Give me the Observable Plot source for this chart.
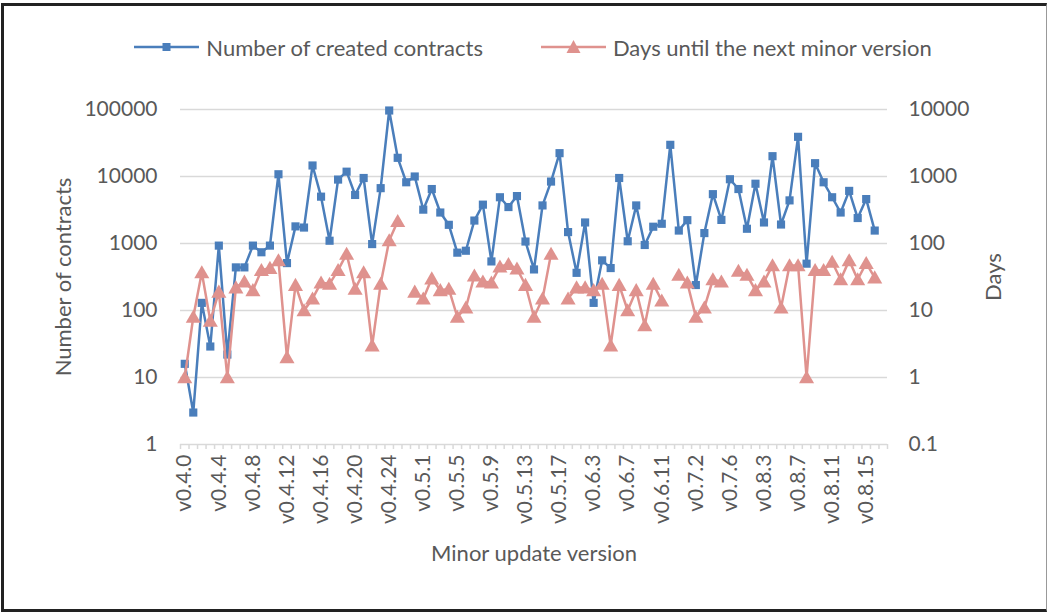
<!DOCTYPE html>
<html>
<head>
<meta charset="utf-8">
<script src="https://cdn.jsdelivr.net/npm/d3@7"></script>
<script src="https://cdn.jsdelivr.net/npm/@observablehq/plot@0.6"></script>
<style>
  html, body { margin: 0; padding: 0; background: #fff; overflow: hidden; }
  body { width: 1048px; height: 612px; position: relative; font-family: Lato, "Open Sans", sans-serif; }
  #frame { position: absolute; left: 1px; top: 3px; width: 1046px; height: 609px; box-sizing: border-box;
           border-left: 3px solid #222; border-top: 3px solid #222; border-bottom: 3px solid #222; border-right: 1px solid #999; pointer-events: none; }
  #legend { position: absolute; top: 30px; left: 0; width: 1066px; height: 34px; display: flex; justify-content: center;
            align-items: center; gap: 58px; font-size: 22px; color: #595959; }
  .item { display: flex; align-items: center; gap: 7px; }
  #plots { position: absolute; left: 0; top: 80px; width: 1048px; height: 532px; }
  #plots svg { position: absolute; left: 0; top: 0; }
</style>
</head>
<body>
<div id="legend">
  <div class="item">
    <svg width="65" height="16"><line x1="0" y1="8" x2="65" y2="8" stroke="#4a7ebb" stroke-width="2.5"/><rect x="28.5" y="4" width="8" height="8" fill="#4a7ebb"/></svg>
    <span>Number of created contracts</span>
  </div>
  <div class="item">
    <svg width="65" height="16"><line x1="0" y1="8" x2="65" y2="8" stroke="#df928e" stroke-width="2.5"/><path d="M32.5,1 L39.5,14 L25.5,14 Z" fill="#df928e"/></svg>
    <span>Days until the next minor version</span>
  </div>
</div>
<div id="plots"></div>
<div id="frame"></div>
<script>
const versions = [
  "v0.4.0","v0.4.1","v0.4.2","v0.4.3","v0.4.4","v0.4.5","v0.4.6","v0.4.7","v0.4.8","v0.4.9",
  "v0.4.10","v0.4.11","v0.4.12","v0.4.13","v0.4.14","v0.4.15","v0.4.16","v0.4.17","v0.4.18","v0.4.19",
  "v0.4.20","v0.4.21","v0.4.22","v0.4.23","v0.4.24","v0.4.25","v0.4.26",
  "v0.5.0","v0.5.1","v0.5.2","v0.5.3","v0.5.4","v0.5.5","v0.5.6","v0.5.7","v0.5.8","v0.5.9",
  "v0.5.10","v0.5.11","v0.5.12","v0.5.13","v0.5.14","v0.5.15","v0.5.16","v0.5.17",
  "v0.6.0","v0.6.1","v0.6.2","v0.6.3","v0.6.4","v0.6.5","v0.6.6","v0.6.7","v0.6.8","v0.6.9",
  "v0.6.10","v0.6.11","v0.6.12",
  "v0.7.0","v0.7.1","v0.7.2","v0.7.3","v0.7.4","v0.7.5","v0.7.6",
  "v0.8.0","v0.8.1","v0.8.2","v0.8.3","v0.8.4","v0.8.5","v0.8.6","v0.8.7","v0.8.8","v0.8.9",
  "v0.8.10","v0.8.11","v0.8.12","v0.8.13","v0.8.14","v0.8.15","v0.8.16","v0.8.17"
];
const labeledVersions = [
  "v0.4.0","v0.4.4","v0.4.8","v0.4.12","v0.4.16","v0.4.20","v0.4.24","v0.5.1","v0.5.5","v0.5.9",
  "v0.5.13","v0.5.17","v0.6.3","v0.6.7","v0.6.11","v0.7.2","v0.7.6","v0.8.3","v0.8.7","v0.8.11","v0.8.15"
];
const contracts = [
  16, 3, 130, 29, 930, 22, 440, 440, 930, 740,
  930, 10800, 510, 1800, 1730, 14600, 5000, 1100, 9000, 11800,
  5300, 9500, 980, 6700, 96600, 19000, 8200,
  10000, 3200, 6500, 2900, 1900, 730, 780, 2200, 3800,
  540, 4900, 3500, 5100, 1070, 410, 3700, 8400, 22300,
  1480, 365, 2060, 130, 560, 430, 9500, 1080, 3700, 950,
  1780, 1970, 29700,
  1560, 2230, 240, 1430, 5450, 2250, 9100,
  6500, 1660, 7800, 2060, 20100, 1920, 4400, 39100, 500, 15800,
  8200, 4900, 2900, 6100, 2400, 4600, 1560, null
];
const days = [
  1, 8, 37, 7, 19, 1, 22, 27, 20, 40,
  43, 56, 2, 24, 10, 15, 26, 25, 40, 70,
  21, 37, 3, 25, 111, 215, null,
  19, 15, 30, 20, 21, 8, 11, 33, 27,
  26, 45, 49, 42, 24, 8, 15, 70, null,
  15, 22, 22, 20, 25, 3, 24, 10, 20, 6,
  25, 14, null,
  34, 26, 8, 11, 29, 27, null,
  39, 34, 20, 27, 47, 11, 47, 47, 1, 40,
  40, 53, 29, 56, 29, 51, 31, null
];
const contractTicks = [1, 10, 100, 1000, 10000, 100000];
const dayTicks = [0.1, 1, 10, 100, 1000, 10000];

const blue = "#4a7ebb";
const pink = "#df928e";
const textColor = "#595959";
const gridColor = "#d9d9d9";

const rows = versions.map((v, i) => ({i, version: v, contracts: contracts[i], days: days[i]}));
const labelIdx = labeledVersions.map(v => versions.indexOf(v));
const boundaries = d3.range(versions.length + 1).map(k => k - 0.5);

const W = 1048, H = 532;
const common = {
  width: W, height: H,
  marginTop: 29, marginBottom: 168, marginLeft: 180, marginRight: 161,
  style: {fontFamily: "Lato, 'Open Sans', sans-serif", fontSize: "21px", color: textColor, background: "transparent", overflow: "visible"}
};

const p1 = Plot.plot({
  ...common,
  x: {type: "linear", domain: [-0.5, versions.length - 0.5], label: null},
  y: {type: "log", domain: [1, 100000], label: null},
  marks: [
    Plot.ruleY(contractTicks, {stroke: gridColor, strokeWidth: 1.5}),
    Plot.axisX(boundaries, {tickSize: 5, stroke: gridColor, strokeWidth: 1.5, tickFormat: () => "", label: null}),
    Plot.axisX(labelIdx, {tickSize: 0, tickPadding: 10, tickRotate: -90, tickFormat: i => versions[i], label: null}),
    Plot.axisY(contractTicks, {tickSize: 0, tickPadding: 23, tickFormat: d => String(d), label: null}),
    Plot.text(["Number of contracts"], {frameAnchor: "left", dx: -117, rotate: -90, textAnchor: "middle", lineAnchor: "middle", fill: textColor, fontSize: 22}),
    Plot.text(["Minor update version"], {frameAnchor: "bottom", dy: 109, textAnchor: "middle", lineAnchor: "middle", fill: textColor, fontSize: 22}),
    Plot.lineY(rows, {x: "i", y: "contracts", stroke: blue, strokeWidth: 2.5}),
    Plot.dot(rows.filter(d => d.contracts != null), {x: "i", y: "contracts", symbol: "square", r: 4.6, fill: blue})
  ]
});

const p2 = Plot.plot({
  ...common,
  x: {type: "linear", domain: [-0.5, versions.length - 0.5], label: null, axis: null},
  y: {type: "log", domain: [0.1, 10000], label: null},
  marks: [
    Plot.axisY(dayTicks, {anchor: "right", tickSize: 0, tickPadding: 21, tickFormat: d => String(d), label: null}),
    Plot.text(["Days"], {frameAnchor: "right", dx: 106, rotate: -90, textAnchor: "middle", lineAnchor: "middle", fill: textColor, fontSize: 22}),
    Plot.lineY(rows, {x: "i", y: "days", stroke: pink, strokeWidth: 2.5}),
    Plot.dot(rows.filter(d => d.days != null), {x: "i", y: "days", symbol: "triangle", r: 5.6, fill: pink, dy: 1.5})
  ]
});

const holder = document.getElementById("plots");
holder.appendChild(p1);
holder.appendChild(p2);
</script>
</body>
</html>
